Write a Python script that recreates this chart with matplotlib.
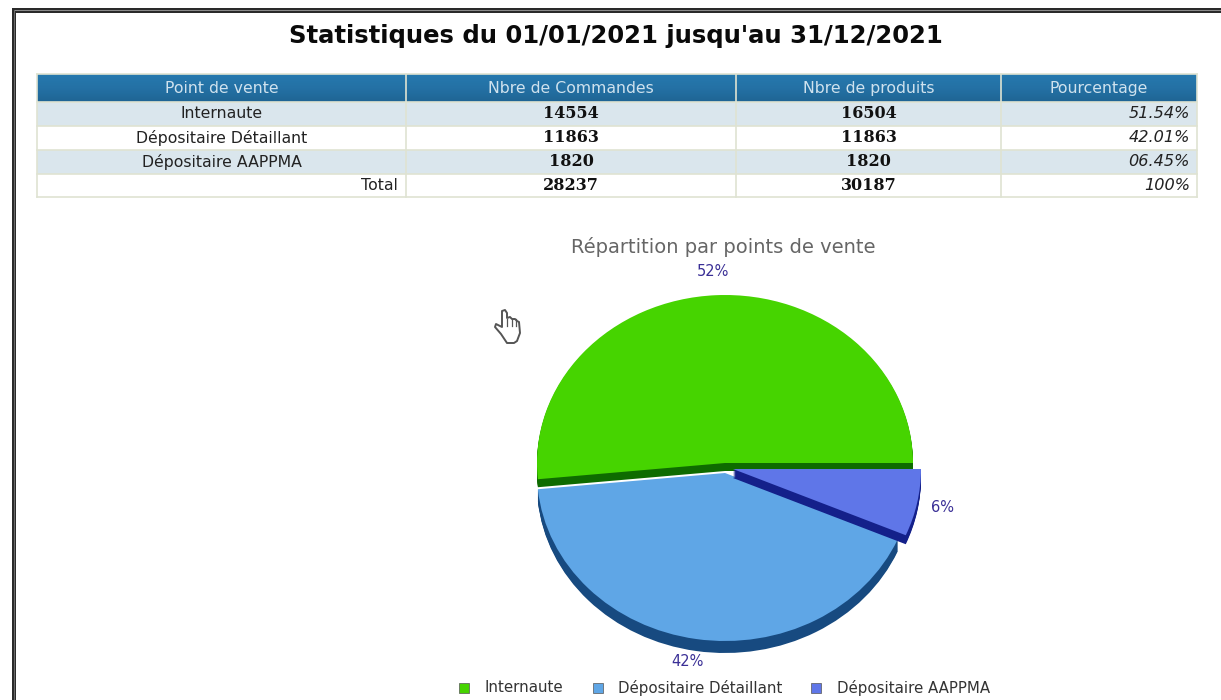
import numpy as np
import matplotlib
matplotlib.use("Agg")
import matplotlib.pyplot as plt
from matplotlib.patches import Wedge, Rectangle, Polygon

title = "Statistiques du 01/01/2021 jusqu'au 31/12/2021"
pie_title = "Répartition par points de vente"
headers = ["Point de vente", "Nbre de Commandes", "Nbre de produits", "Pourcentage"]
points = ["Internaute", "Dépositaire Détaillant", "Dépositaire AAPPMA"]
commandes = [14554, 11863, 1820]
produits = [16504, 11863, 1820]
pourcents = ["51.54%", "42.01%", "06.45%"]
total_label = "Total"
total_commandes = 28237
total_produits = 30187
total_pourcent = "100%"
parts = [51.54, 42.01, 6.45]
part_labels = ["52%", "42%", "6%"]
top_colors = ["#46d400", "#5fa6e6", "#5f76e8"]
dark_colors = ["#0e6b00", "#174a80", "#14208a"]

W, H = 1221, 700
fig = plt.figure(figsize=(W / 100, H / 100), dpi=100, facecolor="white")

# page in pixel coords, y going down like the screenshot
ax = fig.add_axes([0, 0, 1, 1])
ax.set_xlim(0, W)
ax.set_ylim(H, 0)
ax.axis("off")

# window frame
ax.add_patch(Rectangle((12, 8), W - 12, 5, fc="#2a2a2a", ec="none"))
ax.add_patch(Rectangle((12, 8), 4, H - 8, fc="#2a2a2a", ec="none"))
ax.add_patch(Rectangle((14, 10), W - 14, 1.2, fc="#8a8a8a", ec="none"))
ax.add_patch(Rectangle((13.5, 10), 1.2, H - 10, fc="#6a6a6a", ec="none"))

ax.text(616, 36, title, ha="center", va="center", fontsize=17.5, fontweight="bold", color="#0a0a0a")

# table
col_x = [37, 406, 736, 1001, 1197]
row_y = [74, 102, 126, 150, 174, 197]
line_col = "#dfe3d2"
grad = np.linspace(0, 1, 30).reshape(-1, 1)
ax.imshow(grad, extent=(col_x[0], col_x[-1], row_y[1], row_y[0]), aspect="auto",
          cmap=matplotlib.colors.LinearSegmentedColormap.from_list("h", ["#2679ae", "#2471a5", "#1f6594"]),
          zorder=1)
ax.set_xlim(0, W)
ax.set_ylim(H, 0)
for i in range(4):
    fill = "#dae6ed" if i % 2 == 0 else "white"
    ax.add_patch(Rectangle((col_x[0], row_y[i + 1]), col_x[-1] - col_x[0], row_y[i + 2] - row_y[i + 1],
                           fc=fill, ec="none", zorder=1))
for x in col_x:
    ax.plot([x, x], [row_y[0], row_y[-1]], color=line_col, lw=1.2, zorder=2)
for y in row_y:
    ax.plot([col_x[0], col_x[-1]], [y, y], color=line_col, lw=1.2, zorder=2)

for i, h in enumerate(headers):
    ax.text((col_x[i] + col_x[i + 1]) / 2, 88.5, h, ha="center", va="center", fontsize=11.3,
            color="#cfe2ee", zorder=3)

body = dict(va="center", zorder=3, color="#222222")
num = dict(ha="center", va="center", fontsize=11.5, fontweight="bold", family="DejaVu Serif",
           color="#111111", zorder=3)
pct = dict(ha="right", va="center", fontsize=11.6, fontstyle="italic", color="#222222", zorder=3)
for i in range(3):
    yc = (row_y[i + 1] + row_y[i + 2]) / 2
    ax.text((col_x[0] + col_x[1]) / 2, yc, points[i], ha="center", fontsize=11.3, **body)
    ax.text((col_x[1] + col_x[2]) / 2, yc, str(commandes[i]), **num)
    ax.text((col_x[2] + col_x[3]) / 2, yc, str(produits[i]), **num)
    ax.text(col_x[4] - 7, yc, pourcents[i], **pct)
yc = (row_y[4] + row_y[5]) / 2
ax.text(col_x[1] - 8, yc, total_label, ha="right", fontsize=11.3, **body)
ax.text((col_x[1] + col_x[2]) / 2, yc, str(total_commandes), **num)
ax.text((col_x[2] + col_x[3]) / 2, yc, str(total_produits), **num)
ax.text(col_x[4] - 7, yc, total_pourcent, **pct)

# pie: own axes so a unit circle comes out squashed like the picture
rx, ry = 188, 168
pcx, pcy = 725, 463
box = 1.4
pie_ax = fig.add_axes([(pcx - box * rx) / W, 1 - (pcy + box * ry) / H, 2 * box * rx / W, 2 * box * ry / H])
pie_ax.set_xlim(-box, box)
pie_ax.set_ylim(-box, box)
pie_ax.axis("off")

shift_px = [(0, 0), (0, 10), (8, 6)]
depth_px = [8, 12, 9]
angles = np.concatenate([[0], np.cumsum(parts) / np.sum(parts) * 360])
for i in range(3):
    sx, sy = shift_px[i][0] / rx, -shift_px[i][1] / ry
    for d in range(depth_px[i], 0, -1):
        pie_ax.add_patch(Wedge((sx, sy - d / ry), 1, angles[i], angles[i + 1], fc=dark_colors[i], ec="none"))
    pie_ax.add_patch(Wedge((sx, sy), 1, angles[i], angles[i + 1], fc=top_colors[i], ec="none"))

ax.text(723, 247, pie_title, ha="center", va="center", fontsize=14, color="#666666")
ax.text(713, 271, part_labels[0], ha="center", va="center", fontsize=10.5, color="#3a2f96")
ax.text(688, 661, part_labels[1], ha="center", va="center", fontsize=10.5, color="#3a2f96")
ax.text(942, 507, part_labels[2], ha="center", va="center", fontsize=10.5, color="#3a2f96")

# legend
leg_x = [459, 593, 811]
leg_text_x = [485, 618, 837]
for i in range(3):
    ax.add_patch(Rectangle((leg_x[i], 683), 10, 10, fc=top_colors[i], ec="#555555", lw=0.5))
    ax.text(leg_text_x[i], 687.5, points[i], ha="left", va="center", fontsize=10.8, color="#333333")

# mouse cursor
hand = [(502, 311), (505, 310), (507, 313), (507, 318), (510, 317), (512, 319), (515, 319), (517, 321),
        (519, 322), (520, 333), (517, 341), (514, 343), (507, 343), (501, 334), (495, 327), (496, 324), (502, 327)]
ax.add_patch(Polygon(hand, closed=True, fc="white", ec="#555555", lw=1.4, zorder=4, joinstyle="round"))
for x0 in (507, 512, 516):
    ax.plot([x0, x0], [319, 326], color="#555555", lw=0.9, zorder=5)

fig.savefig("out.png", dpi=100, facecolor="white")
